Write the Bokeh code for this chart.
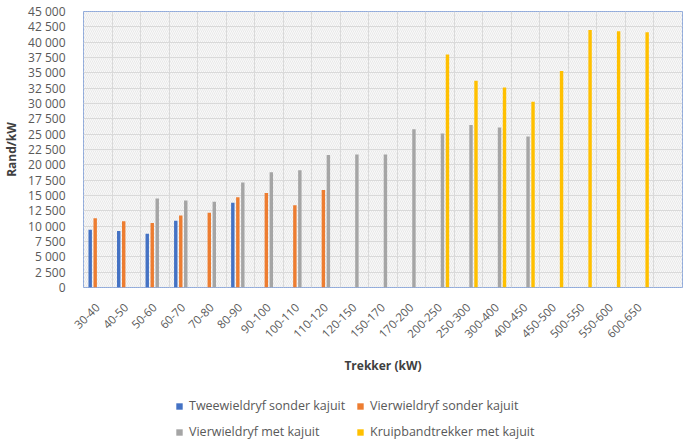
import numpy as np
from math import pi
from bokeh.plotting import figure
from bokeh.layouts import column
from bokeh.models import (ColumnDataSource, FixedTicker, Legend, LegendItem,
                          BoxAnnotation, Range1d)
from bokeh.embed import file_html
from bokeh.resources import INLINE

categories = ["30-40", "40-50", "50-60", "60-70", "70-80", "80-90", "90-100",
              "100-110", "110-120", "120-150", "150-170", "170-200", "200-250",
              "250-300", "300-400", "400-450", "450-500", "500-550", "550-600",
              "600-650"]

tweewiel_sonder = [9400, 9200, 8750, 10900, None, 13800, None, None, None, None,
                   None, None, None, None, None, None, None, None, None, None]
vierwiel_sonder = [11300, 10800, 10500, 11750, 12200, 14700, 15400, 13400, 15900,
                   None, None, None, None, None, None, None, None, None, None, None]
vierwiel_met = [None, None, 14500, 14200, 14000, 17100, 18800, 19100, 21600, 21700,
                21700, 25800, 25100, 26500, 26100, 24600, None, None, None, None]
kruipband_met = [None, None, None, None, None, None, None, None, None, None,
                 None, None, 38000, 33700, 32600, 30300, 35300, 42000, 41800, 41600]

series_names = ["Tweewieldryf sonder kajuit", "Vierwieldryf sonder kajuit",
                "Vierwieldryf met kajuit", "Kruipbandtrekker met kajuit"]
series_values = [tweewiel_sonder, vierwiel_sonder, vierwiel_met, kruipband_met]
series_colors = ["#4472C4", "#ED7D31", "#A5A5A5", "#FFC000"]
series_offsets = [-0.265, -0.09, 0.085, 0.26]

y_ticks = list(range(0, 45001, 2500))
y_tick_labels = [f"{t:,}".replace(",", " ") for t in y_ticks]

n_slots = len(categories) + 1
FONT = "Open Sans"
TXT = "#595959"

p = figure(frame_width=599, frame_height=276,
           x_range=Range1d(0, n_slots), y_range=Range1d(0, 45000),
           output_backend="svg", toolbar_location=None,
           min_border_left=71, min_border_top=11, min_border_right=2,
           min_border_bottom=83)

p.background_fill_color = "#f9f9f9"
p.border_fill_color = "white"
p.outline_line_color = "#8EA9DB"
p.outline_line_width = 1

hatch = BoxAnnotation(fill_alpha=0, line_alpha=0, hatch_pattern="\\",
                      hatch_color="#e2e2e2", hatch_scale=4, hatch_weight=0.7,
                      level="image")
p.add_layout(hatch)

p.xgrid.ticker = FixedTicker(ticks=list(range(0, n_slots + 1)))
p.ygrid.ticker = FixedTicker(ticks=y_ticks)
for g in (p.xgrid, p.ygrid):
    g.grid_line_color = "#d9d9d9"
    g.grid_line_width = 1

for name, vals, color, off in zip(series_names, series_values, series_colors, series_offsets):
    xs = [i + 0.5 + off for i, v in enumerate(vals) if v is not None]
    ys = [v for v in vals if v is not None]
    src = ColumnDataSource(dict(x=xs, top=ys))
    p.vbar(x="x", top="top", bottom=0, width=0.12, source=src,
           fill_color=color, line_color=None)

xa = p.xaxis[0]
xa.ticker = FixedTicker(ticks=[i + 0.5 for i in range(len(categories))])
xa.major_label_overrides = {i + 0.5: c for i, c in enumerate(categories)}
xa.major_label_orientation = pi / 4
xa.major_label_text_font = FONT
xa.major_label_text_font_size = "11.5px"
xa.major_label_text_color = TXT
xa.major_label_standoff = 12
xa.axis_label = "Trekker (kW)"
xa.axis_label_text_font = FONT
xa.axis_label_text_font_size = "12px"
xa.axis_label_text_font_style = "bold"
xa.axis_label_text_color = "#404040"
xa.axis_label_standoff = 12

ya = p.yaxis[0]
ya.ticker = FixedTicker(ticks=y_ticks)
ya.major_label_overrides = {t: l for t, l in zip(y_ticks, y_tick_labels)}
ya.major_label_text_font = FONT
ya.major_label_text_font_size = "12px"
ya.major_label_text_color = TXT
ya.major_label_standoff = 12
ya.axis_label = "Rand/kW"
ya.axis_label_text_font = FONT
ya.axis_label_text_font_size = "12px"
ya.axis_label_text_font_style = "bold"
ya.axis_label_text_color = "#404040"
ya.axis_label_standoff = 5

for ax in (xa, ya):
    ax.axis_line_color = None
    ax.major_tick_line_color = None
    ax.minor_tick_line_color = None

# legend strip below the chart (legend swatches only, no visible marks)
lf = figure(width=672, height=64, output_backend="svg", toolbar_location=None,
            min_border=0, x_range=Range1d(0, 1), y_range=Range1d(0, 1),
            x_axis_location=None, y_axis_location=None)
lf.grid.visible = False
lf.outline_line_color = None
lf.background_fill_color = "white"
lf.border_fill_color = "white"

items = []
for name, color in zip(series_names, series_colors):
    r = lf.vbar(x=[float("nan")], top=[float("nan")], bottom=0, width=0.1,
                fill_color=color, line_color=None)
    items.append(LegendItem(label=name, renderers=[r]))

legend = Legend(items=items, location=(92, 0), orientation="horizontal", ncols=2)
legend.border_line_color = None
legend.background_fill_alpha = 0
legend.padding = 0
legend.margin = 0
legend.spacing = 9
legend.glyph_width = 8
legend.glyph_height = 8
legend.label_height = 14
legend.label_width = 158
legend.label_standoff = 6
legend.label_text_font = FONT
legend.label_text_font_size = "12.5px"
legend.label_text_color = TXT
lf.add_layout(legend)

layout = column(p, lf, spacing=0)
open("out.html", "w").write(file_html(layout, INLINE))
